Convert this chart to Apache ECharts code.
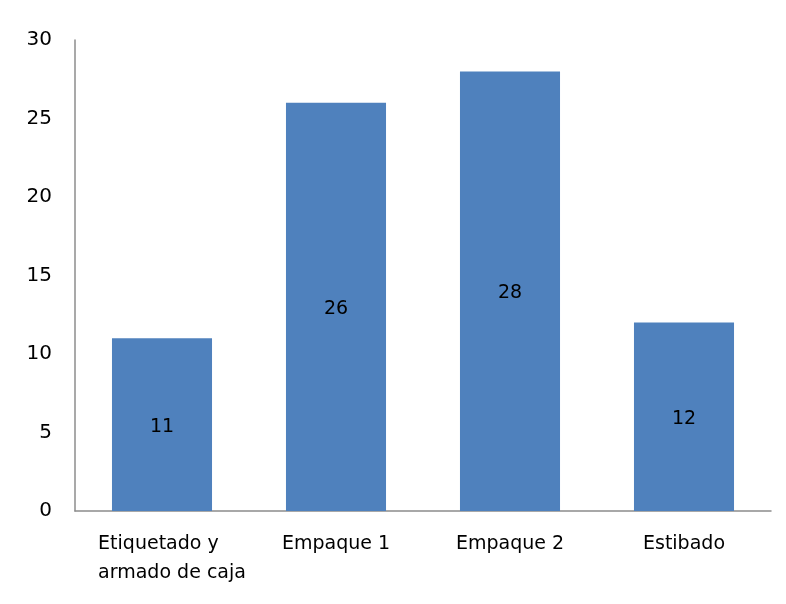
<!DOCTYPE html>
<html>
<head>
<meta charset="utf-8">
<script src="https://cdn.jsdelivr.net/npm/echarts@6/dist/echarts.min.js"></script>
<style>
  html, body { margin: 0; padding: 0; background: #fff; }
  #chart { width: 786px; height: 604px; }
</style>
</head>
<body>
<div id="chart"></div>
<script>
// Process stages and their values
const categories = ['Etiquetado y\narmado de caja', 'Empaque 1', 'Empaque 2', 'Estibado'];
const values = [11, 26, 28, 12];
const yTicks = { min: 0, max: 30, interval: 5 };

const font = 'DejaVu Sans';

const chart = echarts.init(document.getElementById('chart'), null, { renderer: 'canvas' });
chart.setOption({
  animation: false,
  backgroundColor: '#ffffff',
  grid: { left: 75, right: 15, top: 40, bottom: 93, containLabel: false },
  xAxis: {
    type: 'category',
    data: categories.map((c, i) => i === 0
      ? { value: c, textStyle: { padding: [0, 0, 0, 20] } }
      : c),
    axisLine: { lineStyle: { color: '#8c8c8c', width: 1.5 } },
    axisTick: { show: false },
    axisLabel: {
      color: '#000',
      fontFamily: font,
      fontSize: 19,
      lineHeight: 29,
      margin: 19,
      interval: 0,
      // multi-line names are left-aligned as a block
      formatter: v => v.includes('\n')
        ? v.split('\n').map(s => '{l|' + s + '}').join('\n')
        : v,
      rich: {
        l: { align: 'left', color: '#000', fontFamily: font, fontSize: 19, lineHeight: 29 }
      }
    }
  },
  yAxis: {
    type: 'value',
    min: yTicks.min,
    max: yTicks.max,
    interval: yTicks.interval,
    axisLine: { show: true, lineStyle: { color: '#8c8c8c', width: 1.5 } },
    axisTick: { show: false },
    splitLine: { show: false },
    axisLabel: {
      color: '#000',
      fontFamily: font,
      fontSize: 20,
      margin: 23
    }
  },
  series: [{
    type: 'bar',
    data: values,
    barCategoryGap: '42.5%',
    itemStyle: { color: '#4f81bd' },
    label: {
      show: true,
      position: 'inside',
      offset: [0, 2],
      color: '#000',
      fontFamily: font,
      fontSize: 19
    }
  }]
});
</script>
</body>
</html>
